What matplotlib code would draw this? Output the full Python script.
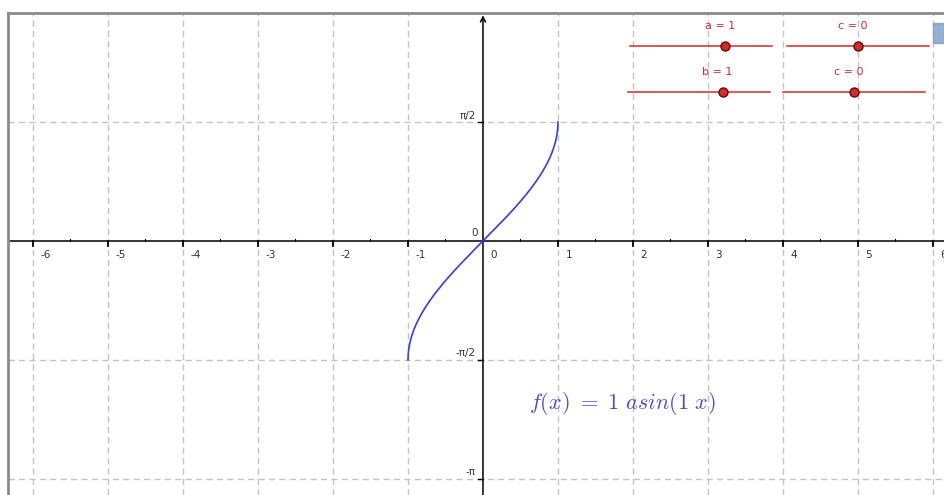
import numpy as np
import matplotlib.pyplot as plt

# function parameters, shown on the sliders
a, b, c, d = 1, 1, 0, 0
slider_min, slider_max = -3, 3

# axis ticks
x_ticks = [-6, -5, -4, -3, -2, -1, 0, 1, 2, 3, 4, 5, 6]
y_ticks = [np.pi / 2, -np.pi / 2, -np.pi]
y_tick_labels = ['π/2', '-π/2', '-π']

# view window
xmin, xmax = -6.333, 6.147
ymin, ymax = -3.353, 3.01

fig = plt.figure(figsize=(9.44, 4.95), dpi=100)
ax = fig.add_axes([8 / 944, 0, 936 / 944, 482 / 495])
ax.set_xlim(xmin, xmax)
ax.set_ylim(ymin, ymax)
ax.set_xticks([])
ax.set_yticks([])
for side in ['right', 'bottom']:
    ax.spines[side].set_visible(False)
for side in ['left', 'top']:
    ax.spines[side].set_color('#8a8a8a')
    ax.spines[side].set_linewidth(2)

grid_style = dict(color='#c4c4c4', lw=1.0, linestyle=(0, (4.5, 3)), zorder=1)
for xv in x_ticks:
    if xv != 0:
        ax.axvline(xv, **grid_style)
for yv in y_ticks:
    ax.axhline(yv, **grid_style)

# axes
ax.axhline(0, color='black', lw=1.1, zorder=2)
ax.annotate('', xy=(0, ymax - 0.03), xytext=(0, ymin),
            arrowprops=dict(arrowstyle='->', lw=1.1, color='black',
                            mutation_scale=9, shrinkA=0, shrinkB=0), zorder=2)

# x ticks and labels
for xv in x_ticks:
    if xv != 0:
        ax.plot([xv, xv], [0, -0.06], color='black', lw=1.3, zorder=2)
    ax.plot([xv + 0.5] * 2, [0, 0.03], color='black', lw=0.8, zorder=2)
    ax.text(xv + 0.1, -0.12, str(xv), fontsize=7.5, color='#333333',
            ha='left', va='top', zorder=3)
ax.text(-0.07, 0.04, '0', fontsize=7.5, color='#333333', ha='right', va='bottom')

# y ticks and labels
for yv, lbl in zip(y_ticks, y_tick_labels):
    ax.plot([-0.07, 0], [yv, yv], color='black', lw=1.0, zorder=2)
    ax.text(-0.1, yv + 0.02, lbl, fontsize=7.5, color='#333333',
            ha='right', va='bottom', zorder=3)

# the curve
xs = np.linspace(-1, 1, 500)
ys = a * np.arcsin(b * xs + c) + d
ax.plot(xs, ys, color='#3a3af0', lw=1.2, zorder=4)

plt.rcParams['mathtext.fontset'] = 'cm'
ax.text(0.62, -2.14, r'$f(x)\ =\ 1\ asin(1\ x)$', fontsize=16,
        color='#4a4ad8', ha='left', va='center')

# sliders
slider_names = ['a', 'c', 'b', 'c']
slider_values = [a, c, b, d]
slider_x0 = [1.96, 4.05, 1.93, 4.0]
slider_y = [2.574, 2.574, 1.967, 1.967]
slider_len = 1.9
red = '#d42a2a'
for name, val, x0, y0 in zip(slider_names, slider_values, slider_x0, slider_y):
    ax.plot([x0, x0 + slider_len], [y0, y0], color=red, lw=1.1, zorder=5)
    px = x0 + (val - slider_min) / (slider_max - slider_min) * slider_len
    ax.plot(px, y0, 'o', color=red, markeredgecolor='#5a1010',
            markersize=6.5, mew=1.0, zorder=6)
    ax.text(px - 0.07, y0 + 0.27, f'{name} = {val}', fontsize=8,
            color=red, ha='center', va='center', zorder=6)

# style bar toggle in the corner
ax.add_patch(plt.Rectangle((6.0, 2.62), 0.15, 0.26, color='#7c9cc4',
                           alpha=0.8, zorder=6, clip_on=True))

fig.savefig('out.png', dpi=100)
